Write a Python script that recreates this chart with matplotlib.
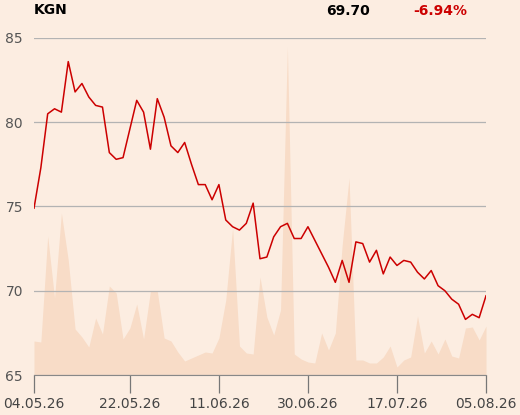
import matplotlib
matplotlib.use("Agg")
import matplotlib.pyplot as plt
import numpy as np

# closing prices, one per trading day (04.05.26 .. 05.08.26)
close = [74.9, 77.3, 80.5, 80.8, 80.6, 83.6, 81.8, 82.3, 81.5, 81.0,
         80.9, 78.2, 77.8, 77.9, 79.6, 81.3, 80.6, 78.4, 81.4, 80.3,
         78.6, 78.2, 78.8, 77.5, 76.3, 76.3, 75.4, 76.3, 74.2, 73.8,
         73.6, 74.0, 75.2, 71.9, 72.0, 73.2, 73.8, 74.0, 73.1, 73.1,
         73.8, 73.0, 72.2, 71.4, 70.5, 71.8, 70.5, 72.9, 72.8, 71.7,
         72.4, 71.0, 72.0, 71.5, 71.8, 71.7, 71.1, 70.7, 71.2, 70.3,
         70.0, 69.5, 69.2, 68.3, 68.6, 68.4, 69.7]

# traded volume (arbitrary units)
volume = [34, 33, 139, 77, 162, 115, 46, 38, 28, 57,
          41, 89, 82, 36, 47, 71, 36, 84, 84, 37,
          34, 23, 14, 17, 20, 23, 22, 37, 75, 147,
          29, 22, 21, 98, 58, 40, 65, 328, 21, 16,
          13, 12, 42, 25, 42, 130, 197, 15, 15, 12,
          12, 18, 29, 8, 15, 18, 59, 22, 34, 21,
          36, 19, 17, 47, 48, 35, 49]

tick_pos = [0, 14, 27, 40, 53, 66]
tick_labels = ["04.05.26", "22.05.26", "11.06.26", "30.06.26", "17.07.26", "05.08.26"]

bg = "#FCEDE1"
fig = plt.figure(figsize=(5.2, 4.15), dpi=100, facecolor=bg)
ax = fig.add_axes([34/520, 40/415, 452/520, 337/415])
x = np.arange(len(close))

axv = ax.twinx()
axv.fill_between(x, 0, volume, color="#F8DCC7", lw=0)
axv.set_ylim(0, 337)
axv.set_yticks([])
for s in axv.spines.values():
    s.set_visible(False)
axv.set_facecolor(bg)

ax.set_zorder(axv.get_zorder() + 1)
ax.patch.set_visible(False)

ax.plot(x, close, color="#CC0000", lw=1.1)
ax.set_xlim(0, 66)
ax.set_ylim(65, 85)
ax.set_yticks([65, 70, 75, 80, 85])
ax.grid(axis="y", color="#B3B3B3", lw=0.9)
ax.set_axisbelow(True)
ax.tick_params(axis="y", length=0, pad=8, labelsize=10, labelcolor="#555555")
ax.set_xticks(tick_pos)
ax.set_xticklabels(tick_labels)
ax.tick_params(axis="x", length=13, width=0.9, color="#777777", pad=3,
               labelsize=10, labelcolor="#444444")
for k in ["top", "right", "left"]:
    ax.spines[k].set_visible(False)
ax.spines["bottom"].set_color("#888888")

fig.text(34/520, 1 - 10/415, "KGN", fontsize=10, fontweight="bold", va="center", ha="left")
fig.text(370/520, 1 - 11/415, "69.70", fontsize=10, fontweight="bold", va="center", ha="right")
fig.text(467/520, 1 - 11/415, "-6.94%", fontsize=10, fontweight="bold", va="center",
         ha="right", color="#CC0000")

fig.savefig("out.png", dpi=100, facecolor=bg)
